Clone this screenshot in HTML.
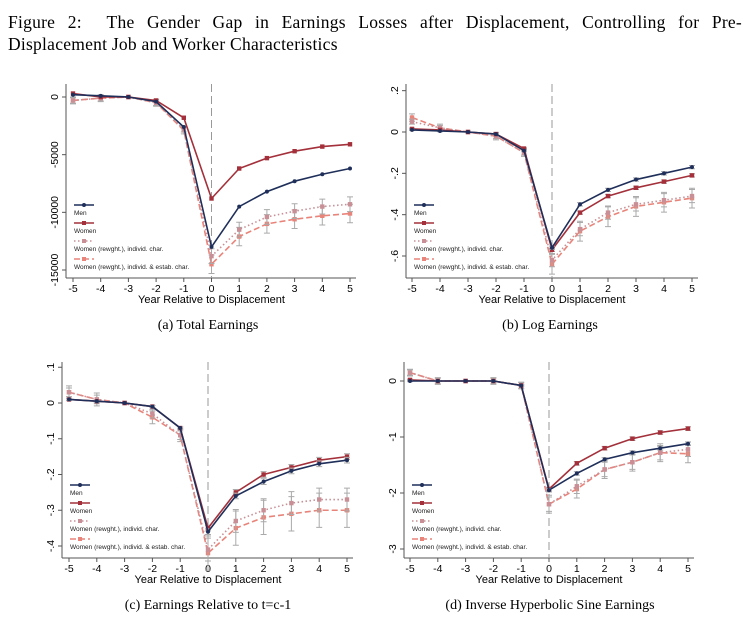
<!DOCTYPE html>
<html><head><meta charset="utf-8"><style>
body{margin:0;background:#fff;width:749px;height:642px;overflow:hidden;position:relative}
.t{position:absolute;left:8px;width:734px;font-family:"Liberation Serif",serif;font-size:17.5px;letter-spacing:0.25px;line-height:22px;white-space:nowrap}
.j{text-align:justify;text-align-last:justify}
.cap{position:absolute;font-family:"Liberation Serif",serif;font-size:14px;text-align:center;width:360px}
svg{position:absolute;left:0;top:0}
</style></head><body>
<div class="t j" style="top:11px">Figure 2:&nbsp; The Gender Gap in Earnings Losses after Displacement, Controlling for Pre-</div>
<div class="t" style="top:33px">Displacement Job and Worker Characteristics</div>
<div class="cap" style="left:28px;top:318px">(a) Total Earnings</div>
<div class="cap" style="left:370px;top:318px">(b) Log Earnings</div>
<div class="cap" style="left:28px;top:598px">(c) Earnings Relative to t=c-1</div>
<div class="cap" style="left:370px;top:598px">(d) Inverse Hyperbolic Sine Earnings</div>
<svg id="s" width="749" height="642" font-family="Liberation Sans, sans-serif"></svg>
<script>
const P=[
{ax:66,x0:73,x1:350,top:84,bot:278,v0:0,y0:97,v1:-15000,y1:270,ticks:[[0,"0"],[-5000,"-5000"],[-10000,"-10000"],[-15000,"-15000"]],
d:[[200,100,0,-400,-2600,-13000,-9500,-8200,-7300,-6700,-6200],[300,0,0,-300,-1800,-8800,-6200,-5300,-4700,-4300,-4100],[-300,-100,0,-500,-2800,-13800,-11500,-10400,-9900,-9500,-9300],[-300,-100,0,-500,-2900,-14500,-12100,-11000,-10600,-10300,-10100]],e:[0,0,400,500]},
{ax:406,x0:412,x1:692,top:84,bot:278,v0:0,y0:132,v1:-0.6,y1:256,ticks:[[0.2,".2"],[0,"0"],[-0.2,"-.2"],[-0.4,"-.4"],[-0.6,"-.6"]],
d:[[.01,.005,0,-.01,-.09,-.56,-.35,-.28,-.23,-.2,-.17],[.015,.01,0,-.01,-.08,-.57,-.39,-.31,-.27,-.24,-.21],[.05,.02,0,-.02,-.1,-.62,-.47,-.39,-.35,-.33,-.31],[.07,.02,0,-.02,-.1,-.64,-.48,-.41,-.36,-.34,-.32]],e:[.005,.005,.02,.03]},
{ax:62,x0:69,x1:347,top:362,bot:558,v0:0,y0:403,v1:-0.4,y1:546,ticks:[[0.1,".1"],[0,"0"],[-0.1,"-.1"],[-0.2,"-.2"],[-0.3,"-.3"],[-0.4,"-.4"]],
d:[[.01,.005,0,-.01,-.07,-.36,-.26,-.22,-.19,-.17,-.16],[.01,.005,0,-.01,-.07,-.35,-.25,-.2,-.18,-.16,-.15],[.03,.01,0,-.03,-.09,-.41,-.33,-.3,-.28,-.27,-.27],[.03,.01,0,-.04,-.09,-.42,-.35,-.32,-.31,-.3,-.3]],e:[.005,.005,.02,.03]},
{ax:404,x0:410,x1:688,top:362,bot:558,v0:0,y0:381,v1:-3,y1:549,ticks:[[0,"0"],[-1,"-1"],[-2,"-2"],[-3,"-3"]],
d:[[0,0,0,0,-.08,-1.95,-1.65,-1.4,-1.28,-1.2,-1.12],[.02,0,0,0,-.08,-1.93,-1.47,-1.2,-1.03,-.92,-.85],[.15,0,0,0,-.08,-2.2,-1.88,-1.58,-1.45,-1.28,-1.22],[.15,0,0,0,-.08,-2.2,-1.93,-1.58,-1.45,-1.28,-1.3]],e:[.02,.02,.08,.1]}];
const C=["#1f2f5a","#a3303a","#c88f96","#e8847a"],DA=["","","1.5,2.5","6,3"];
let h="";
P.forEach((p,pi)=>{
 const X=i=>p.x0+(p.x1-p.x0)*i/10, Y=v=>p.y0+(p.y1-p.y0)*(v-p.v0)/(p.v1-p.v0);
 h+=`<line x1="${p.ax}" y1="${p.top}" x2="${p.ax}" y2="${p.bot}" stroke="#555" stroke-width="1"/>`;
 h+=`<line x1="${p.ax}" y1="${p.bot}" x2="${p.x1+6}" y2="${p.bot}" stroke="#555" stroke-width="1"/>`;
 p.ticks.forEach(([v,l])=>{const y=Y(v);h+=`<line x1="${p.ax-4}" y1="${y}" x2="${p.ax}" y2="${y}" stroke="#555"/><text transform="translate(${p.ax-8},${y}) rotate(-90)" text-anchor="middle" font-size="10.5">${l}</text>`});
 for(let i=0;i<=10;i++){h+=`<line x1="${X(i)}" y1="${p.bot}" x2="${X(i)}" y2="${p.bot+4}" stroke="#555"/><text x="${X(i)}" y="${p.bot+14}" text-anchor="middle" font-size="10.5">${i-5}</text>`}
 h+=`<text x="${(p.x0+p.x1)/2}" y="${p.bot+25}" text-anchor="middle" font-size="11">Year Relative to Displacement</text>`;
 h+=`<line x1="${X(5)}" y1="${p.top}" x2="${X(5)}" y2="${p.bot}" stroke="#999" stroke-dasharray="8,4"/>`;
 [3,2,1,0].forEach(s=>{const d=p.d[s];
  d.forEach((v,i)=>{const e=p.e[s]*(i>=5?1.6:(i==2?0:0.6));if(e>0){const x=X(i);h+=`<path d="M${x-3} ${Y(v+e)}h6M${x} ${Y(v+e)}V${Y(v-e)}M${x-3} ${Y(v-e)}h6" stroke="#aaa" fill="none"/>`}});
  h+=`<polyline points="${d.map((v,i)=>X(i)+","+Y(v)).join(" ")}" fill="none" stroke="${C[s]}" stroke-width="1.6" stroke-dasharray="${DA[s]}"/>`;
  d.forEach((v,i)=>{h+=s==0?`<circle cx="${X(i)}" cy="${Y(v)}" r="2" fill="${C[s]}"/>`:`<rect x="${X(i)-2.2}" y="${Y(v)-2.2}" width="4.4" height="4.4" fill="${C[s]}"/>`});
 });
 const lx=p.ax+8, ly=p.bot-73;
 const L=["Men","Women","Women (rewght.), individ. char.","Women (rewght.), individ. & estab. char."];
 L.forEach((t,k)=>{const y=ly+k*18;h+=`<line x1="${lx}" y1="${y}" x2="${lx+20}" y2="${y}" stroke="${C[k]}" stroke-width="1.6" stroke-dasharray="${DA[k]}"/>`+(k==0?`<circle cx="${lx+10}" cy="${y}" r="2" fill="${C[k]}"/>`:`<rect x="${lx+8}" y="${y-2}" width="4" height="4" fill="${C[k]}"/>`)+`<text x="${lx}" y="${y+10}" font-size="6.5" fill="#222">${t}</text>`});
});
document.getElementById("s").innerHTML=h;
</script>
</body></html>
